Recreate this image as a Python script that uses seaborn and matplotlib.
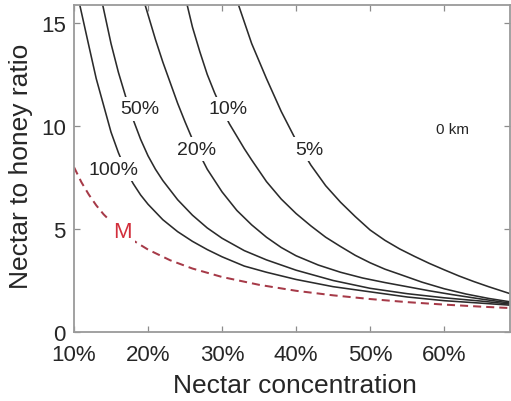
import matplotlib
matplotlib.use("Agg")
import matplotlib.pyplot as plt
import pandas as pd
import seaborn as sns

# ---- data ----
conc_100 = [0.107, 0.12, 0.13, 0.14, 0.15, 0.16, 0.17, 0.18, 0.19, 0.20, 0.22, 0.24, 0.26,
            0.28, 0.30, 0.33, 0.36, 0.40, 0.45, 0.50, 0.55, 0.60, 0.65, 0.69]
ratio_100 = [16.0, 13.9, 12.3, 11.0, 9.7, 8.7, 7.85, 7.2, 6.65, 6.2, 5.45, 4.87, 4.4,
             4.0, 3.65, 3.2, 2.9, 2.55, 2.2, 1.95, 1.7, 1.52, 1.4, 1.3]

conc_50 = [0.138, 0.15, 0.16, 0.17, 0.18, 0.19, 0.20, 0.21, 0.22, 0.24, 0.26, 0.28, 0.30,
           0.33, 0.36, 0.40, 0.45, 0.50, 0.55, 0.60, 0.65, 0.69]
ratio_50 = [16.0, 14.0, 12.6, 11.4, 10.3, 9.35, 8.55, 7.9, 7.35, 6.42, 5.67, 5.05, 4.55,
            3.95, 3.5, 3.0, 2.5, 2.12, 1.86, 1.66, 1.5, 1.35]

conc_20 = [0.195, 0.21, 0.22, 0.23, 0.24, 0.25, 0.26, 0.27, 0.28, 0.30, 0.32, 0.34,
           0.36, 0.38, 0.40, 0.43, 0.46, 0.49, 0.52, 0.55, 0.58, 0.61, 0.65, 0.69]
ratio_20 = [16.0, 14.2, 13.1, 12.1, 11.1, 10.2, 9.35, 8.6, 7.9, 6.8, 5.9, 5.2,
            4.6, 4.1, 3.7, 3.25, 2.9, 2.62, 2.4, 2.2, 2.0, 1.82, 1.6, 1.4]

conc_10 = [0.252, 0.26, 0.27, 0.28, 0.29, 0.30, 0.31, 0.32, 0.33, 0.34, 0.36, 0.38,
           0.40, 0.42, 0.44, 0.46, 0.48, 0.50, 0.52, 0.54, 0.57, 0.60, 0.63, 0.66, 0.69]
ratio_10 = [16.0, 14.8, 13.6, 12.5, 11.6, 10.8, 10.1, 9.5, 8.9, 8.35, 7.3, 6.45,
            5.75, 5.15, 4.6, 4.15, 3.72, 3.36, 3.05, 2.8, 2.42, 2.1, 1.84, 1.63, 1.46]

conc_5 = [0.321, 0.34, 0.36, 0.38, 0.40, 0.42, 0.44, 0.46, 0.48, 0.50, 0.52, 0.54,
          0.56, 0.58, 0.60, 0.62, 0.64, 0.66, 0.69]
ratio_5 = [16.0, 14.0, 12.3, 10.7, 9.3, 8.1, 7.1, 6.3, 5.6, 4.95, 4.45, 4.03,
           3.67, 3.33, 3.02, 2.72, 2.45, 2.2, 1.85]

conc_M = [0.10, 0.11, 0.12, 0.13, 0.14, 0.16, 0.18, 0.20, 0.23, 0.26, 0.30, 0.35,
          0.40, 0.45, 0.50, 0.55, 0.60, 0.65, 0.69]
ratio_M = [8.0, 7.27, 6.67, 6.15, 5.71, 5.0, 4.44, 4.0, 3.48, 3.08, 2.67, 2.29,
           2.0, 1.78, 1.6, 1.45, 1.33, 1.23, 1.16]

curve_names = ["100%", "50%", "20%", "10%", "5%", "M"]
label_conc = [0.1527, 0.1892, 0.2662, 0.308, 0.4176, 0.1649]
label_ratio = [7.91, 10.83, 8.88, 10.83, 8.88, 4.90]

xticks = [0.1, 0.2, 0.3, 0.4, 0.5, 0.6]
xticklabels = ["10%", "20%", "30%", "40%", "50%", "60%"]
yticks = [0, 5, 10, 15]
distance_note = "0 km"

# ---- long-form table ----
series = {
    "100%": (conc_100, ratio_100),
    "50%": (conc_50, ratio_50),
    "20%": (conc_20, ratio_20),
    "10%": (conc_10, ratio_10),
    "5%": (conc_5, ratio_5),
    "M": (conc_M, ratio_M),
}
frames = []
for name, (cx, ry) in series.items():
    frames.append(pd.DataFrame({"conc": cx, "ratio": ry, "curve": name}))
df = pd.concat(frames, ignore_index=True)

sns.set_theme(style="white")
plt.rcParams["font.family"] = ["Liberation Sans", "DejaVu Sans"]

fig = plt.figure(figsize=(5.11, 4.02), dpi=100)
ax = fig.add_axes([74 / 511, (402 - 333) / 402, (510 - 74) / 511, (333 - 6) / 402])

line_col = "#2b2b2b"
red_dash = "#a63a48"
palette = {n: line_col for n in curve_names[:-1]}
palette["M"] = red_dash
dashes = {n: "" for n in curve_names[:-1]}
dashes["M"] = (4.0, 2.5)

sns.lineplot(data=df[df["curve"] != "M"], x="conc", y="ratio", hue="curve",
             hue_order=curve_names[:-1], palette=palette, estimator=None,
             sort=False, legend=False, linewidth=1.15, ax=ax)
sns.lineplot(data=df[df["curve"] == "M"], x="conc", y="ratio", hue="curve",
             style="curve", palette=palette, dashes={"M": dashes["M"]},
             estimator=None, sort=False, legend=False, linewidth=1.45, ax=ax)

ax.set_xlim(0.1, 0.689)
ax.set_ylim(0, 15.87)

box = dict(boxstyle="square,pad=0.18", fc="white", ec="none")
for name, cx, ry in zip(curve_names, label_conc, label_ratio):
    if name == "M":
        ax.text(cx, ry, name, fontsize=16, color="#d22f3c", ha="center",
                va="center", bbox=box, zorder=5)
    else:
        ax.text(cx, ry, name, fontsize=14, color="#262626", ha="center",
                va="center", bbox=box, zorder=5)

ax.text(0.6108, 9.85, distance_note, fontsize=11, color="#262626",
        ha="center", va="center")

ax.set_xticks(xticks)
ax.set_xticklabels(xticklabels)
ax.set_yticks(yticks)
ax.tick_params(axis="both", direction="in", length=4, width=0.9, color="#8c8c8c",
               labelsize=16, labelcolor="#262626", top=True, right=True,
               bottom=True, left=True, labeltop=False, labelright=False)
ax.tick_params(axis="x", pad=9)
ax.tick_params(axis="y", pad=6)

for sp in ax.spines.values():
    sp.set_visible(True)
    sp.set_color("#9a9a9a")
    sp.set_linewidth(1.3)

ax.set_xlabel("Nectar concentration", fontsize=19, color="#262626")
ax.set_ylabel("Nectar to honey ratio", fontsize=19, color="#262626")
ax.xaxis.set_label_coords(0.507, -0.125)
ax.yaxis.set_label_coords(-0.095, 0.511)
ax.grid(False)

fig.savefig("out.png", dpi=100)
